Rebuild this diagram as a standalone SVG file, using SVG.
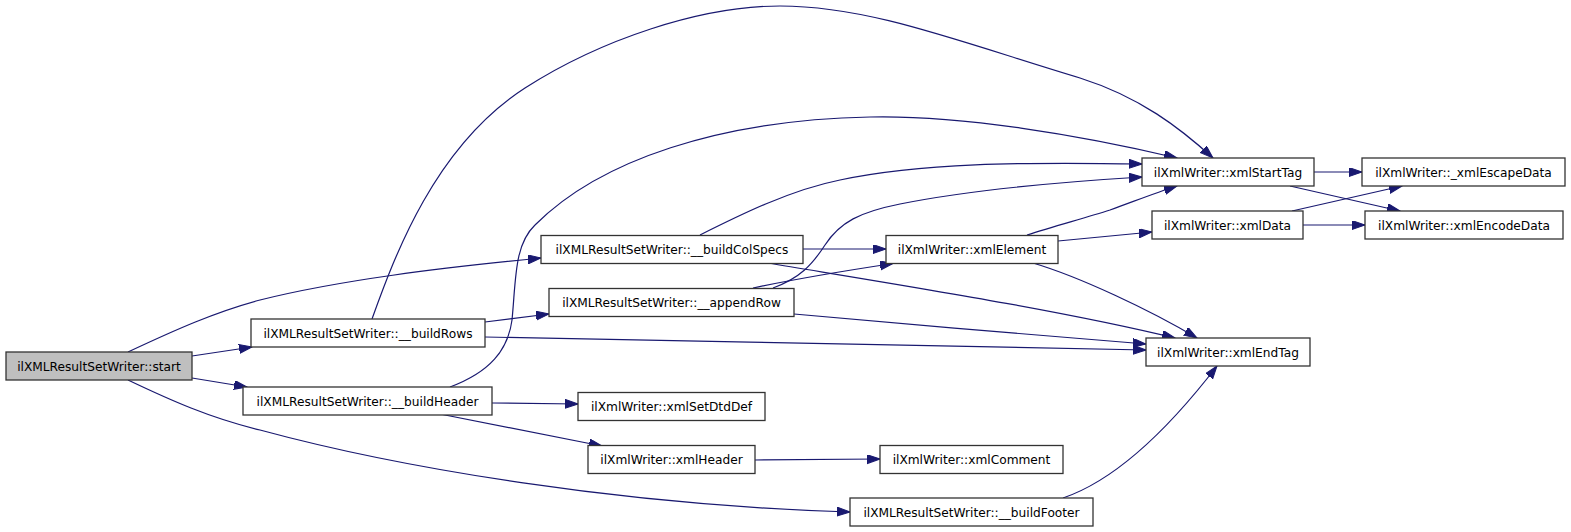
<svg xmlns="http://www.w3.org/2000/svg" width="1571" height="532" viewBox="0 0 1571 532">
<style>
.n rect{fill:#ffffff;stroke:#333333;stroke-width:1.3}
.n.root rect{fill:#bfbfbf}
.n text{font-family:"DejaVu Sans",sans-serif;font-size:12.2px;fill:#000000;text-anchor:middle}
.e path{fill:none;stroke:#191970;stroke-width:1.2;marker-end:url(#ah)}
</style>
<defs>
<marker id="ah" markerUnits="userSpaceOnUse" markerWidth="14" markerHeight="10" refX="13" refY="4.5" orient="auto" viewBox="0 0 14 10">
<path d="M0,0 L13,4.5 L0,9 z" fill="#191970" stroke="#191970" stroke-width="1"/>
</marker>
</defs>
<rect width="1571" height="532" fill="#ffffff"/>
<g id="edges" class="e">
<path d="M128,352 C175,330 215,312 260,300 C340,280 440,268 541,258"/>
<path d="M192,356 L252,347"/>
<path d="M192,378 L247,387"/>
<path d="M128,380 C170,400 210,418 260,430 C400,468 620,505 850,512"/>
<path d="M372,319 C395,255 435,146 525,88 C600,40 700,6 780,6 C870,6 960,42 1080,78 C1140,97 1180,128 1213,158"/>
<path d="M485,322 L549,314"/>
<path d="M485,337 C700,341 950,346 1146,350"/>
<path d="M450,387 C490,372 508,350 512,320 C516,280 514,245 535,225 C600,160 720,120 870,117 C960,115 1080,135 1177,158"/>
<path d="M492,403 L578,404"/>
<path d="M440,414 L602,446"/>
<path d="M700,235 C740,215 790,190 840,180 C920,163 1020,162 1142,164"/>
<path d="M803,249 L886,249"/>
<path d="M768,263 C900,285 1060,310 1175,338"/>
<path d="M773,288 C800,278 812,265 825,245 C840,222 860,212 900,204 C970,190 1060,182 1142,177"/>
<path d="M753,288 C800,278 850,270 893,263.5"/>
<path d="M794,314 C900,324 1050,336 1146,344"/>
<path d="M1027,235 C1055,226 1085,218 1110,210 C1135,201 1155,193 1177,186"/>
<path d="M1058,241 L1152,232"/>
<path d="M1033,263 C1080,277 1150,310 1197,338"/>
<path d="M1314,172 L1362,172"/>
<path d="M1290,186 L1400,211"/>
<path d="M1292,211 L1402,186"/>
<path d="M1303,225 L1365,225"/>
<path d="M755,460 L880,459"/>
<path d="M1063,498 C1110,482 1160,440 1217,366"/>
</g>
<g id="node-start" class="n root"><rect x="6" y="352" width="186" height="28"/><text x="99" y="370.5">ilXMLResultSetWriter::start</text></g>
<g id="node-buildRows" class="n"><rect x="251" y="319" width="234" height="28"/><text x="368" y="337.5">ilXMLResultSetWriter::__buildRows</text></g>
<g id="node-buildHeader" class="n"><rect x="243" y="387" width="249" height="28"/><text x="367.5" y="405.5">ilXMLResultSetWriter::__buildHeader</text></g>
<g id="node-buildColSpecs" class="n"><rect x="541" y="235.5" width="262" height="28"/><text x="672" y="254">ilXMLResultSetWriter::__buildColSpecs</text></g>
<g id="node-appendRow" class="n"><rect x="549" y="288.5" width="245" height="28"/><text x="671.5" y="307">ilXMLResultSetWriter::__appendRow</text></g>
<g id="node-xmlElement" class="n"><rect x="886" y="235.5" width="172" height="28"/><text x="972" y="254">ilXmlWriter::xmlElement</text></g>
<g id="node-xmlStartTag" class="n"><rect x="1142" y="158" width="172" height="28"/><text x="1228" y="176.5">ilXmlWriter::xmlStartTag</text></g>
<g id="node-xmlEscapeData" class="n"><rect x="1362" y="158" width="203" height="28"/><text x="1463.5" y="176.5">ilXmlWriter::_xmlEscapeData</text></g>
<g id="node-xmlData" class="n"><rect x="1152" y="211" width="151" height="28"/><text x="1227.5" y="229.5">ilXmlWriter::xmlData</text></g>
<g id="node-xmlEncodeData" class="n"><rect x="1365" y="211" width="198" height="28"/><text x="1464" y="229.5">ilXmlWriter::xmlEncodeData</text></g>
<g id="node-xmlEndTag" class="n"><rect x="1146" y="338" width="164" height="28"/><text x="1228" y="356.5">ilXmlWriter::xmlEndTag</text></g>
<g id="node-xmlSetDtdDef" class="n"><rect x="578" y="392.5" width="187" height="28"/><text x="671.5" y="411">ilXmlWriter::xmlSetDtdDef</text></g>
<g id="node-xmlHeader" class="n"><rect x="588" y="445.5" width="167" height="28"/><text x="671.5" y="464">ilXmlWriter::xmlHeader</text></g>
<g id="node-xmlComment" class="n"><rect x="880" y="445.5" width="183" height="28"/><text x="971.5" y="464">ilXmlWriter::xmlComment</text></g>
<g id="node-buildFooter" class="n"><rect x="850" y="498" width="243" height="28"/><text x="971.5" y="516.5">ilXMLResultSetWriter::__buildFooter</text></g>
</svg>
